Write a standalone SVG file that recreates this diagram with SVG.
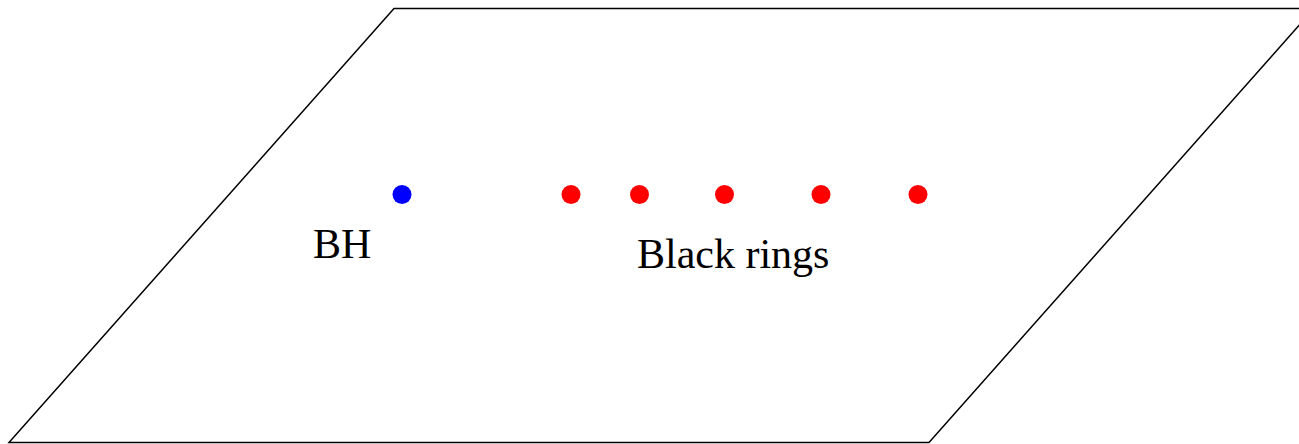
<svg xmlns="http://www.w3.org/2000/svg" width="1299" height="444" viewBox="0 0 1299 444">
<style>
.edge{fill:none;stroke:#000;stroke-width:1.5}
.lbl{font-family:"Liberation Serif","Times New Roman",serif;font-size:42px;fill:#000}
.ring{fill:#ff0000}
</style>
<rect width="1299" height="444" fill="#fff"/>
<g id="connectors">
<polygon class="edge" points="394,8.5 1314,8.5 929,442.5 9,442.5"/>
</g>
<g id="bh">
<circle cx="402" cy="194.5" r="9.5" fill="#0000ff"/>
<text class="lbl" x="313" y="258">BH</text>
</g>
<g id="rings">
<circle class="ring" cx="571" cy="194.5" r="9.5"/>
<circle class="ring" cx="639.5" cy="194.5" r="9.5"/>
<circle class="ring" cx="724.5" cy="194.5" r="9.5"/>
<circle class="ring" cx="821" cy="194.5" r="9.5"/>
<circle class="ring" cx="918" cy="194.5" r="9.5"/>
<text class="lbl" x="637" y="268">Black rings</text>
</g>
</svg>
